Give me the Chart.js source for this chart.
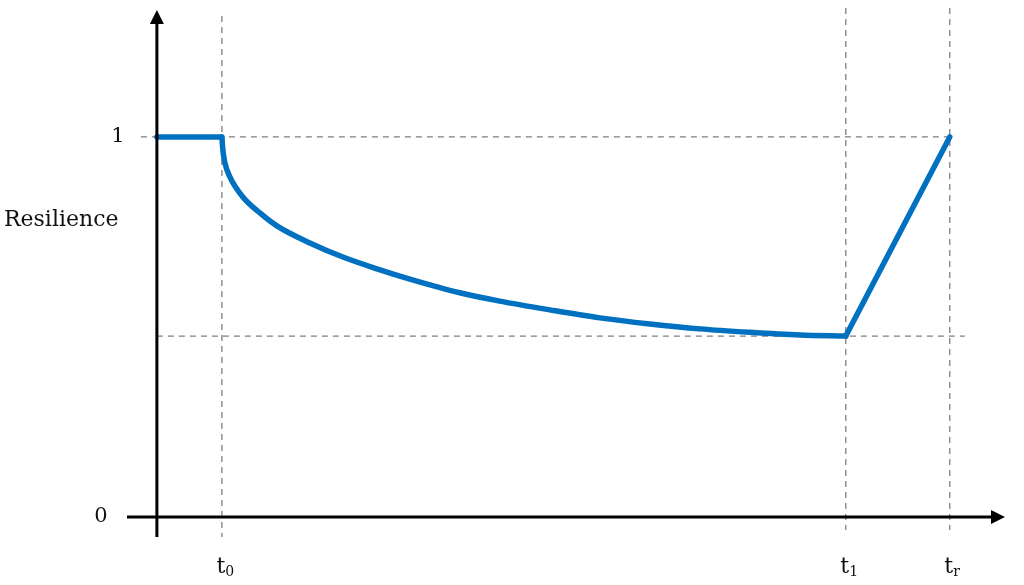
<!DOCTYPE html>
<html>
<head>
<meta charset="utf-8">
<script src="https://cdn.jsdelivr.net/npm/chart.js@4"></script>
<style>
    html, body { margin: 0; padding: 0; background: #fff; }
    #wrap { width: 1024px; height: 585px; }
</style>
</head>
<body>
<div id="wrap"><canvas id="myChart" width="1024" height="585"></canvas></div>
<script>
// time marks on the x axis
const markNames = ['t', 't', 't'];
const markSubs = ['0', '1', 'r'];
const markTimes = [10, 106, 122];

// resilience levels
const yTickLabels = ['0', '1'];
const yTickValues = [0, 1];
const minLevel = 0.476;

// normal operation before the disruption
const steadyX = [0, 10];
const steadyY = [1, 1];

// degradation phase
const decayX = [10, 10.15, 10.46, 11.23, 13.23, 15.85, 18.46, 23.54, 28.62, 33.85, 38.92, 46.6, 52.77, 60.46, 68.15, 75.85, 83.54, 91.23, 98.92, 106];
const decayY = [1, 0.966, 0.932, 0.895, 0.842, 0.8, 0.766, 0.721, 0.684, 0.653, 0.626, 0.590, 0.568, 0.545, 0.524, 0.508, 0.495, 0.486, 0.479, 0.476];

// recovery phase
const recoverX = [106, 122];
const recoverY = [0.476, 1];

const blue = '#0070c0';
const serif = '"DejaVu Serif", "Liberation Serif", serif';

function toPoints(xs, ys) {
    return xs.map((x, i) => ({ x: x, y: ys[i] }));
}

const axesPlugin = {
    id: 'axesPlugin',
    beforeDatasetsDraw(chart) {
        const ctx = chart.ctx;
        const xs = chart.scales.x;
        const ys = chart.scales.y;
        const area = chart.chartArea;
        const x0 = xs.getPixelForValue(0);
        const y1 = ys.getPixelForValue(1);
        const yMin = ys.getPixelForValue(minLevel);

        // dashed guide lines
        ctx.save();
        ctx.strokeStyle = '#7f7f7f';
        ctx.lineWidth = 1.3;
        ctx.setLineDash([6, 5]);
        ctx.beginPath();
        ctx.moveTo(x0 - 16, y1);
        ctx.lineTo(xs.getPixelForValue(markTimes[2]), y1);
        ctx.moveTo(x0, yMin);
        ctx.lineTo(xs.getPixelForValue(markTimes[2]) + 15, yMin);
        markTimes.forEach((t, i) => {
            const px = xs.getPixelForValue(t);
            ctx.moveTo(px, i == 0 ? area.top + 6 : area.top - 2);
            ctx.lineTo(px, i == 0 ? area.bottom : area.bottom - 7);
        });
        ctx.stroke();
        ctx.restore();
    },
    afterDatasetsDraw(chart) {
        const ctx = chart.ctx;
        const xs = chart.scales.x;
        const ys = chart.scales.y;
        const area = chart.chartArea;
        const x0 = xs.getPixelForValue(0);
        const y0 = ys.getPixelForValue(0);

        ctx.save();
        ctx.strokeStyle = '#000';
        ctx.fillStyle = '#000';
        ctx.lineWidth = 3;
        ctx.setLineDash([]);
        // y axis with arrow
        ctx.beginPath();
        ctx.moveTo(x0, area.bottom);
        ctx.lineTo(x0, area.top + 10);
        ctx.stroke();
        ctx.beginPath();
        ctx.moveTo(x0, area.top);
        ctx.lineTo(x0 - 7, area.top + 14);
        ctx.lineTo(x0 + 7, area.top + 14);
        ctx.closePath();
        ctx.fill();
        // x axis with arrow
        ctx.beginPath();
        ctx.moveTo(area.left, y0);
        ctx.lineTo(area.right - 10, y0);
        ctx.stroke();
        ctx.beginPath();
        ctx.moveTo(area.right, y0);
        ctx.lineTo(area.right - 14, y0 - 7);
        ctx.lineTo(area.right - 14, y0 + 7);
        ctx.closePath();
        ctx.fill();

        // y tick labels
        ctx.fillStyle = '#111';
        ctx.font = '21px ' + serif;
        ctx.textBaseline = 'middle';
        ctx.textAlign = 'center';
        ctx.fillText(yTickLabels[1], x0 - 39, ys.getPixelForValue(yTickValues[1]));
        ctx.fillText(yTickLabels[0], x0 - 56, ys.getPixelForValue(yTickValues[0]));

        // axis title
        ctx.font = '22px ' + serif;
        ctx.textAlign = 'left';
        ctx.fillText('Resilience', 4, ys.getPixelForValue(0.78));

        // time marks with subscripts
        ctx.textBaseline = 'alphabetic';
        markTimes.forEach((t, i) => {
            const px = xs.getPixelForValue(t);
            ctx.font = '22px ' + serif;
            ctx.textAlign = 'center';
            ctx.fillText(markNames[i], px - 1, y0 + 56);
            const w = ctx.measureText(markNames[i]).width;
            ctx.font = '14px ' + serif;
            ctx.textAlign = 'left';
            ctx.fillText(markSubs[i], px - 1 + w / 2, y0 + 59);
        });
        ctx.restore();
    }
};

const lineStyle = {
    borderColor: blue,
    borderWidth: 5.5,
    borderCapStyle: 'round',
    pointRadius: 0,
    fill: false
};

new Chart(document.getElementById('myChart'), {
    type: 'line',
    data: {
        datasets: [
            Object.assign({ label: 'steady', data: toPoints(steadyX, steadyY), tension: 0 }, lineStyle),
            Object.assign({ label: 'decay', data: toPoints(decayX, decayY), cubicInterpolationMode: 'monotone' }, lineStyle),
            Object.assign({ label: 'recover', data: toPoints(recoverX, recoverY), tension: 0 }, lineStyle)
        ]
    },
    options: {
        responsive: false,
        animation: false,
        layout: { padding: { left: 127, right: 19, top: 10, bottom: 48 } },
        plugins: {
            legend: { display: false },
            tooltip: { enabled: false }
        },
        scales: {
            x: { type: 'linear', display: false, min: -4.6, max: 130.5 },
            y: { type: 'linear', display: false, min: -0.0526, max: 1.334 }
        }
    },
    plugins: [axesPlugin]
});
</script>
</body>
</html>
